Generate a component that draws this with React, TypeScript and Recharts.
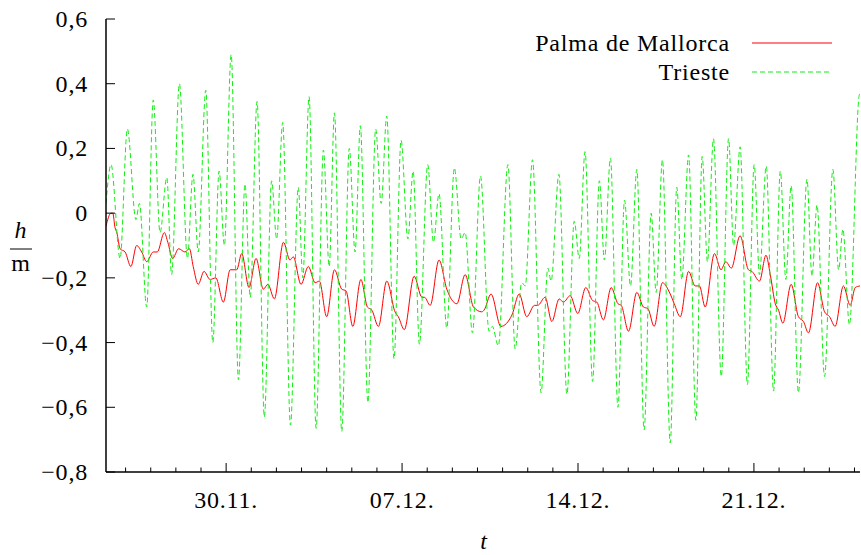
import React from "react";
import { LineChart, Line, XAxis, YAxis } from "recharts";

// time t in days since 25.11. 00:00, sea level h in metres

const triesteDays = [
  0.22, 0.42, 0.78, 1.07, 1.41, 1.55, 1.84, 2.1, 2.37, 2.64, 2.83, 3.14, 3.46,
  3.68, 3.89, 4.19, 4.47, 4.72, 4.93, 5.2, 5.49, 5.75, 5.96, 6.23, 6.52, 6.81,
  7.01, 7.25, 7.56, 7.87, 8.05, 8.3, 8.58, 8.87, 9.1, 9.31, 9.6, 9.9, 10.13,
  10.34, 10.64, 10.95, 11.17, 11.39, 11.68, 11.96, 12.23, 12.44, 12.69, 13.02,
  13.25, 13.47, 13.78, 14.08, 14.35, 14.51, 14.8, 15.12, 15.46, 15.59, 15.83,
  16.21, 16.5, 16.76, 16.9, 17.19, 17.53, 17.8, 17.93, 18.24, 18.56, 18.85,
  19.05, 19.28, 19.58, 19.85, 20.05, 20.29, 20.59, 20.85, 21.09, 21.34, 21.63,
  21.91, 22.11, 22.36, 22.67, 22.93, 23.13, 23.4, 23.69, 23.94, 24.15, 24.39,
  24.7, 24.99, 25.19, 25.45, 25.74, 26.01, 26.22, 26.49, 26.78, 27.05, 27.27,
  27.48, 27.77, 28.11, 28.31, 28.51, 28.81, 29.14, 29.37, 29.54, 29.8, 30.19,
  30.22,
];
const triesteLevel = [
  0.03, 0.15, -0.14, 0.26, -0.02, 0.03, -0.29, 0.35, -0.06, 0.11, -0.19, 0.4,
  -0.14, 0.12, -0.12, 0.38, -0.4, 0.13, -0.1, 0.49, -0.515, 0.09, -0.26, 0.345,
  -0.63, 0.1, -0.08, 0.28, -0.655, 0.08, -0.2, 0.36, -0.665, 0.195, -0.165,
  0.31, -0.675, 0.2, -0.12, 0.27, -0.585, 0.26, 0.03, 0.3, -0.45, 0.225, -0.08,
  0.13, -0.405, 0.15, -0.09, 0.06, -0.355, 0.14, -0.08, -0.06, -0.37, 0.115,
  -0.365, -0.35, -0.41, 0.15, -0.42, -0.215, -0.225, 0.165, -0.555, -0.17,
  -0.21, 0.12, -0.56, -0.025, -0.14, 0.19, -0.52, 0.1, -0.145, 0.17, -0.6, 0.04,
  -0.225, 0.135, -0.67, 0.0, -0.245, 0.165, -0.71, 0.08, -0.205, 0.18, -0.64,
  0.175, -0.15, 0.23, -0.505, 0.23, -0.1, 0.205, -0.53, 0.15, -0.19, 0.145,
  -0.55, 0.13, -0.205, 0.085, -0.555, 0.105, -0.195, 0.025, -0.505, 0.135,
  -0.175, -0.05, -0.345, 0.365, 0.37,
];

const palmaDays = [
  0.22, 0.42, 0.49, 0.58, 0.65, 0.78, 0.98, 1.21, 1.44, 1.64, 1.84, 2.1, 2.26,
  2.54, 2.68, 2.87, 3.11, 3.36, 3.54, 3.69, 3.89, 4.12, 4.36, 4.59, 4.89, 5.16,
  5.42, 5.62, 5.91, 6.19, 6.48, 6.66, 6.92, 7.28, 7.54, 7.67, 7.98, 8.27, 8.54,
  8.71, 9.0, 9.31, 9.6, 9.77, 10.04, 10.36, 10.62, 10.8, 11.06, 11.39, 11.72,
  11.85, 12.09, 12.48, 12.79, 12.89, 13.12, 13.47, 13.78, 14.18, 14.51, 14.84,
  15.17, 15.26, 15.54, 15.93, 16.37, 16.66, 16.96, 17.27, 17.4, 17.69, 17.96,
  18.25, 18.42, 18.69, 18.99, 19.31, 19.58, 19.75, 20.01, 20.32, 20.59, 20.72,
  21.01, 21.34, 21.6, 21.78, 22.03, 22.36, 22.67, 22.83, 23.07, 23.4, 23.66,
  23.83, 24.06, 24.43, 24.69, 24.88, 25.1, 25.45, 25.78, 25.92, 26.22, 26.48,
  26.65, 26.85, 26.98, 27.15, 27.48, 27.77, 27.97, 28.17, 28.53, 28.81, 29.01,
  29.23, 29.56, 29.83, 30.03, 30.22,
];
const palmaLevel = [
  -0.04, 0.0, 0.0, -0.045, -0.06, -0.11, -0.12, -0.165, -0.1, -0.12, -0.15,
  -0.12, -0.12, -0.06, -0.09, -0.14, -0.11, -0.12, -0.11, -0.165, -0.22, -0.18,
  -0.205, -0.2, -0.275, -0.175, -0.175, -0.125, -0.23, -0.14, -0.235, -0.22,
  -0.265, -0.09, -0.145, -0.135, -0.22, -0.165, -0.215, -0.21, -0.32, -0.175,
  -0.235, -0.24, -0.35, -0.205, -0.29, -0.3, -0.35, -0.21, -0.305, -0.32, -0.36,
  -0.195, -0.26, -0.26, -0.285, -0.145, -0.235, -0.28, -0.19, -0.29, -0.305,
  -0.3, -0.25, -0.35, -0.315, -0.25, -0.32, -0.285, -0.285, -0.26, -0.335,
  -0.265, -0.275, -0.255, -0.31, -0.23, -0.27, -0.275, -0.33, -0.23, -0.28,
  -0.285, -0.365, -0.245, -0.29, -0.295, -0.35, -0.215, -0.25, -0.28, -0.32,
  -0.18, -0.225, -0.225, -0.29, -0.125, -0.175, -0.15, -0.17, -0.07, -0.175,
  -0.18, -0.21, -0.13, -0.19, -0.28, -0.3, -0.34, -0.22, -0.32, -0.335, -0.37,
  -0.215, -0.305, -0.32, -0.35, -0.225, -0.285, -0.23, -0.225,
];

const dayTicks = Array.from({ length: 30 }, (_, i) => i + 1);
const dateTicks = [5, 12, 19, 26];
const dateLabels = ["30.11.", "07.12.", "14.12.", "21.12."];
const levelTicks = [-0.8, -0.6, -0.4, -0.2, 0, 0.2, 0.4, 0.6];

const trieste = triesteDays.map((t, i) => ({ t, h: triesteLevel[i] }));
const palma = palmaDays.map((t, i) => ({ t, h: palmaLevel[i] }));

const FONT = "'Liberation Serif', 'DejaVu Serif', serif";
const FS = 24;
const LS = 0.8;
const MAJOR = 9;
const MINOR = 4.5;

const fmtLevel = (v: number) => {
  if (Math.abs(v) < 1e-9) return "0";
  const s = Math.abs(v).toFixed(1).replace(".", ",");
  return v < 0 ? "\u2212" + s : s;
};

const BottomTick = (props: any) => {
  const { x, y, payload } = props;
  const idx = dateTicks.indexOf(payload.value);
  const len = idx >= 0 ? MAJOR : MINOR;
  return (
    <g>
      <line x1={x} x2={x} y1={y} y2={y - len} stroke="#000" strokeWidth={1} />
      {idx >= 0 && (
        <text x={x} y={y + 36} textAnchor="middle" fontFamily={FONT} fontSize={FS} letterSpacing={LS} fill="#000">
          {dateLabels[idx]}
        </text>
      )}
    </g>
  );
};

const TopTick = (props: any) => {
  const { x, y, payload } = props;
  const len = dateTicks.includes(payload.value) ? MAJOR : MINOR;
  return <line x1={x} x2={x} y1={y} y2={y + len} stroke="#000" strokeWidth={1} />;
};

const LeftTick = (props: any) => {
  const { x, y, payload } = props;
  return (
    <g>
      <line x1={x} x2={x + MAJOR} y1={y} y2={y} stroke="#000" strokeWidth={1} />
      <text x={x - 18} y={y + 8} textAnchor="end" fontFamily={FONT} fontSize={FS} letterSpacing={LS} fill="#000">
        {fmtLevel(payload.value)}
      </text>
    </g>
  );
};

const RightTick = (props: any) => {
  const { x, y } = props;
  return <line x1={x} x2={x - MAJOR} y1={y} y2={y} stroke="#000" strokeWidth={1} />;
};

const axisLine = { stroke: "#000", strokeWidth: 1.5 };

export default function App() {
  return (
    <div style={{ position: "relative", width: 861, height: 555, background: "#fff" }}>
      <style>{"body{margin:0}"}</style>
      <LineChart
        width={861}
        height={555}
        margin={{ top: 19, right: 1, bottom: 0, left: 0 }}
      >
        <XAxis
          xAxisId="b"
          dataKey="t"
          type="number"
          domain={[0.22, 30.22]}
          allowDataOverflow
          ticks={dayTicks}
          interval={0}
          height={83}
          tickSize={0}
          tickMargin={0}
          tickLine={false}
          axisLine={axisLine}
          tick={<BottomTick />}
        />
        <XAxis
          xAxisId="top"
          orientation="top"
          dataKey="t"
          type="number"
          domain={[0.22, 30.22]}
          allowDataOverflow
          ticks={dayTicks}
          interval={0}
          height={0}
          tickSize={0}
          tickMargin={0}
          tickLine={false}
          axisLine={axisLine}
          tick={<TopTick />}
        />
        <YAxis
          yAxisId="l"
          type="number"
          domain={[-0.8, 0.6]}
          allowDataOverflow
          ticks={levelTicks}
          interval={0}
          width={106}
          tickSize={0}
          tickMargin={0}
          tickLine={false}
          axisLine={axisLine}
          tick={<LeftTick />}
        />
        <YAxis
          yAxisId="r"
          orientation="right"
          type="number"
          domain={[-0.8, 0.6]}
          allowDataOverflow
          ticks={levelTicks}
          interval={0}
          width={0}
          tickSize={0}
          tickMargin={0}
          tickLine={false}
          axisLine={axisLine}
          tick={<RightTick />}
        />
        <Line
          xAxisId="b"
          yAxisId="l"
          data={palma}
          dataKey="h"
          type="monotone"
          stroke="#ff0000"
          strokeWidth={1}
          dot={false}
          activeDot={false}
          isAnimationActive={false}
        />
        <Line
          xAxisId="b"
          yAxisId="l"
          data={trieste}
          dataKey="h"
          type="monotone"
          stroke="#11ee11"
          strokeWidth={1}
          strokeDasharray="5 3"
          dot={false}
          activeDot={false}
          isAnimationActive={false}
        />
      </LineChart>
      <svg
        width={861}
        height={555}
        style={{ position: "absolute", left: 0, top: 0, pointerEvents: "none" }}
        fontFamily={FONT}
        fontSize={FS}
        letterSpacing={LS}
      >
        <text x={730} y={51} textAnchor="end">Palma de Mallorca</text>
        <line x1={752} x2={832} y1={43} y2={43} stroke="#ff0000" strokeWidth={1} />
        <text x={730} y={80} textAnchor="end">Trieste</text>
        <line x1={752} x2={832} y1={72} y2={72} stroke="#11ee11" strokeWidth={1} strokeDasharray="5 3" />
        <text x={21} y={238} textAnchor="middle" fontStyle="italic">h</text>
        <line x1={10} x2={32} y1={249} y2={249} stroke="#000" strokeWidth={1} />
        <text x={21} y={271} textAnchor="middle">m</text>
        <text x={484} y={549} textAnchor="middle" fontStyle="italic">t</text>
      </svg>
    </div>
  );
}
